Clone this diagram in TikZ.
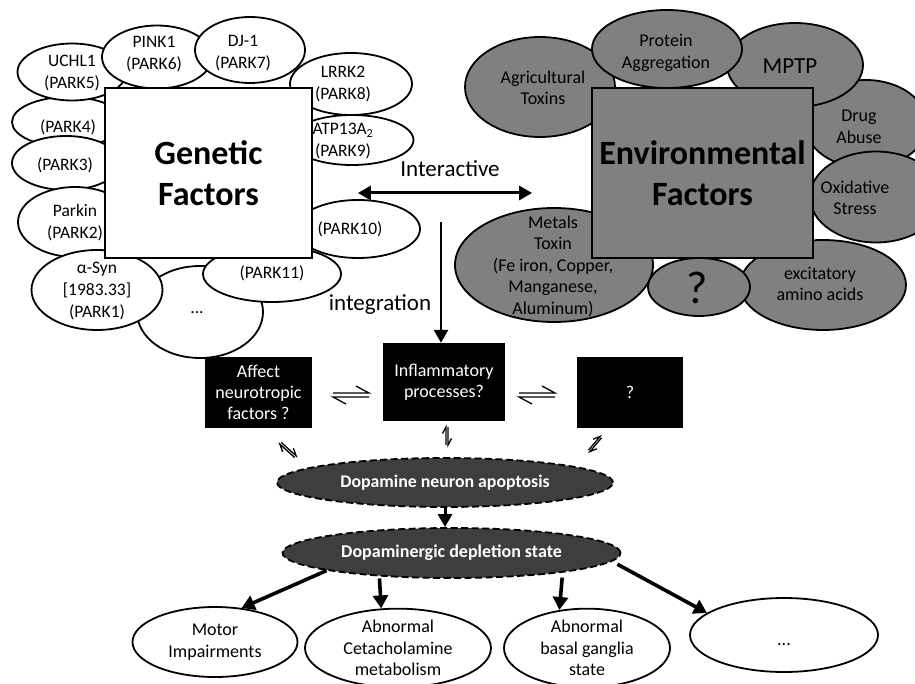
\documentclass[tikz,border=0pt]{standalone}
\usepackage{fontspec}
\setmainfont{Carlito}
\usetikzlibrary{shapes.geometric,arrows.meta}
\definecolor{envgray}{RGB}{128,128,128}
\definecolor{darkfill}{RGB}{62,62,62}
\begin{document}
\begin{tikzpicture}[x=1pt,y=-1pt,
 gel/.style={ellipse,draw=black,line width=1.8pt,fill=white,inner sep=0pt},
 eel/.style={ellipse,draw=black,line width=1.8pt,fill=envgray,inner sep=0pt},
 gtxt/.style={align=center,inner sep=0pt,font=\fontsize{17.5}{22}\selectfont},
 etxt/.style={align=center,inner sep=0pt,font=\fontsize{18}{21.5}\selectfont},
 bigbox/.style={draw=black,line width=1.8pt,align=center,inner sep=0pt,font=\fontsize{34}{41}\selectfont\bfseries},
 blk/.style={fill=black,text=white,align=center,inner sep=0pt,font=\fontsize{18}{21}\selectfont},
 dsh/.style={ellipse,draw=black,fill=darkfill,line width=1.8pt,dash pattern=on 7pt off 3.5pt,inner sep=0pt,text=white,font=\fontsize{17.8}{20}\selectfont\bfseries},
 outc/.style={ellipse,draw=black,line width=1.8pt,fill=white,inner sep=0pt,align=center,font=\fontsize{18}{21.5}\selectfont},
 fat/.style={line width=3.6pt,-{Triangle[length=13pt,width=15pt]}},
 midarrow/.style={line width=2.8pt,-{Triangle[length=13pt,width=14pt]}},
 eqline/.style={line width=1.3pt},
 pics/eqm/.style={code={
   \draw[eqline] (-18,-2) -- (18,-2) -- (5,-9);
   \draw[eqline] (18,2) -- (-18,2) -- (-5,9);}}
]
\useasboundingbox (0,0) rectangle (915,684);
\fill[white] (0,0) rectangle (915,684);

% ---------- genetic ellipses ----------
\node[gel,minimum width=112pt,minimum height=50pt] (p4) at (68,122) {};
\node[gel,minimum width=108pt,minimum height=54pt] (p3) at (66,163) {};
\node[gel,minimum width=114pt,minimum height=70pt] (p2) at (75,222) {};
\node[gel,minimum width=109pt,minimum height=57pt] (u5) at (72,72) {};
\node[gel,minimum width=110pt,minimum height=63pt] (p6) at (157,57) {};
\node[gel,minimum width=110pt,minimum height=66pt] (p7) at (250,50) {};
\node[gel,minimum width=122pt,minimum height=62pt] (p8) at (351,84) {};
\node[gel,minimum width=123pt,minimum height=50pt] (p9) at (352,140) {};
\node[gel,minimum width=124pt,minimum height=58pt] (p10) at (358,229) {};
\node[gel,minimum width=126pt,minimum height=92pt] (pdots) at (200,312) {};
\node[gel,minimum width=138pt,minimum height=56pt] (p11) at (272,274) {};
\node[gel,minimum width=131pt,minimum height=80pt] (p1) at (97,290) {};

\node[gtxt] (t4) at (68,127) {(PARK4)};
\node[gtxt] (t3) at (65,165) {(PARK3)};
\node[gtxt] (t2) at (75,223) {Parkin\\(PARK2)};
\node[gtxt] (t5) at (72,73) {UCHL1\\(PARK5)};
\node[gtxt] (t6) at (154,54) {PINK1\\(PARK6)};
\node[gtxt] (t7) at (243,53) {DJ-1\\(PARK7)};
\node[gtxt] (t8) at (343,84) {LRRK2\\(PARK8)};
\node[gtxt] (t9) at (343,141) {ATP13A\textsubscript{2}\\(PARK9)};
\node[gtxt] (t10) at (350,229) {(PARK10)};
\node[gtxt] (t11) at (272,273) {(PARK11)};
\node[gtxt] (t1) at (97,291) {α-Syn\\{[}1983.33{]}\\(PARK1)};
\node[gtxt,anchor=base] (tdots) at (197,314) {...};

% ---------- environmental ellipses ----------
\node[eel,minimum width=150pt,minimum height=100pt] (ag) at (540,87) {};
\node[eel,minimum width=122pt,minimum height=88pt] (dr) at (866,124) {};
\node[eel,minimum width=136pt,minimum height=84pt] (mp) at (795,65) {};
\node[eel,minimum width=150pt,minimum height=78pt] (pr) at (667,49) {};
\node[eel,minimum width=132pt,minimum height=91pt] (ox) at (876,197) {};
\node[eel,minimum width=198pt,minimum height=114pt] (me) at (554,265) {};
\node[eel,minimum width=166pt,minimum height=90pt] (ex) at (823,285) {};
\node[eel,minimum width=102pt,minimum height=58pt] (qq) at (699,287) {};

\node[etxt] (tag) at (543,88) {Agricultural\\Toxins};
\node[etxt] (tpr) at (666,53) {Protein\\Aggregation};
\node[etxt,font=\fontsize{23}{26}\selectfont] (tmp) at (790,66) {MPTP};
\node[etxt] (tdr) at (859,127) {Drug\\Abuse};
\node[etxt] (tox) at (855,198) {Oxidative\\Stress};
\node[etxt] (tme) at (553,266) {Metals\\Toxin\\(Fe iron, Copper,\\Manganese,\\Aluminum)};
\node[etxt] (tex) at (820,284) {excitatory\\amino acids};
\node[etxt,font=\fontsize{46}{50}\selectfont] (tqq) at (697,288) {?};

% ---------- main boxes ----------
\node[bigbox,fill=white,minimum width=207pt,minimum height=170pt] (gbox) at (208.5,173) {Genetic\\Factors};
\node[bigbox,fill=envgray,minimum width=221pt,minimum height=170pt] (ebox) at (702.5,173) {Environmental\\Factors};

% interactive arrow
\draw[line width=3pt,{Triangle[length=13pt,width=14pt]}-{Triangle[length=13pt,width=14pt]},
      shorten <=45pt, shorten >=59pt] ([yshift=-20pt]gbox.east) -- ([yshift=-20pt]ebox.west);
\node[font=\fontsize{23}{26}\selectfont,inner sep=0pt] (tint) at (450,168.5) {Interactive};

% ---------- middle boxes ----------
\node[blk,minimum width=107pt,minimum height=71pt] (aff) at (258.5,392.5) {Affect\\neurotropic\\factors ?};
\node[blk,minimum width=122pt,minimum height=78pt] (inf) at (444,382) {Inflammatory\\processes?};
\node[blk,minimum width=106pt,minimum height=71pt] (qb) at (630,392.5) {?};

% integration arrow
\coordinate (ig) at (441,222);
\draw[midarrow] (ig) -- (ig |- inf.north);
\node[font=\fontsize{23}{26}\selectfont,inner sep=0pt] (tinteg) at (380,305) {integration};

% equilibrium signs
\pic at (351,395) {eqm};
\pic at (537,395) {eqm};
\pic[rotate=90,scale=0.5] at (447,436) {eqm};
\pic[rotate=-42,scale=0.55] at (288,450) {eqm};
\pic[rotate=50,scale=0.5] at (595,444) {eqm};

% ---------- dopamine ellipses ----------
\node[dsh,minimum width=336pt,minimum height=49pt] (apop) at (445,482.5) {Dopamine neuron apoptosis};
\node[dsh,minimum width=338pt,minimum height=50pt,font=\fontsize{18}{20}\selectfont\bfseries] (depl) at (451.5,553) {Dopaminergic depletion state};
\draw[midarrow,line width=3pt] (apop.south) -- (apop.south |- depl.north);

% ---------- outcomes ----------
\node[outc,minimum width=165pt,minimum height=70pt] (mot) at (215,642) {Motor\\Impairments};
\node[outc,minimum width=186pt,minimum height=70pt] (cet) at (398,648) {Abnormal\\Cetacholamine\\metabolism};
\node[outc,minimum width=166pt,minimum height=70pt] (bas) at (587,648) {Abnormal\\basal ganglia\\state};
\node[outc,minimum width=188pt,minimum height=74pt,text height=21pt,text depth=0pt] (odots) at (784,635) {...};

\draw[fat] (depl.188) -- (mot.52);
\draw[fat,shorten <=2pt] (depl.198.7) -- (cet.113.5);
\draw[fat,shorten <=5pt] (depl.350.3) -- (bas.126.8);
\draw[fat,shorten <=6pt] (depl.-3.4) -- (odots.164);
\end{tikzpicture}
\end{document}
